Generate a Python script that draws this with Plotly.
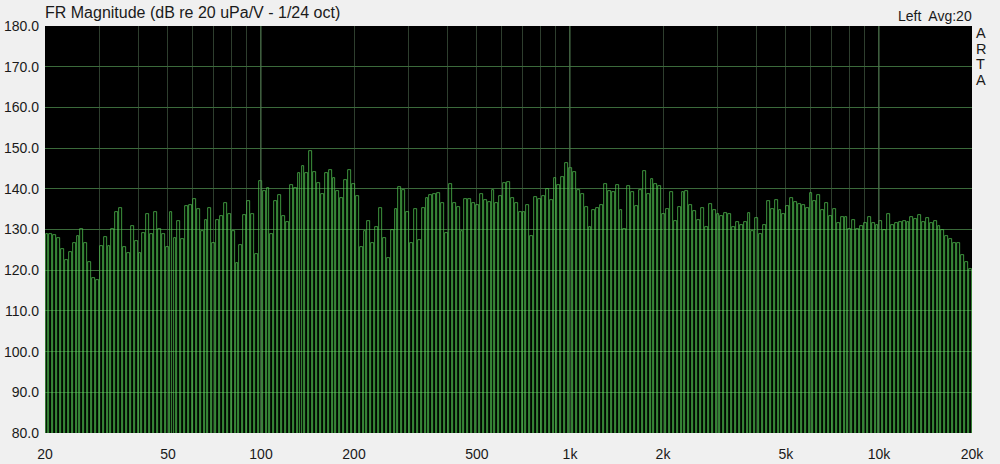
import numpy as np
import plotly.graph_objects as go

# ---- data ----
f_start = 20.0
f_stop = 20000.0
spl_db = [
    # 20 Hz .. ~200 Hz
    128.9, 128.9, 128.7, 128.0, 125.1, 122.5, 124.4, 126.6, 128.4, 130.2,
    126.6, 122.0, 118.2, 117.6, 125.9, 128.2, 125.9, 130.2, 134.2, 135.4,
    125.6, 124.3, 130.8, 127.1, 124.3, 129.2, 133.8, 128.9, 134.2, 130.2,
    129.0, 125.8, 134.3, 127.8, 132.1, 127.7, 135.7, 136.0, 137.5, 135.1,
    129.7, 132.3, 135.4, 126.6, 132.4, 133.3, 136.5, 133.7, 129.7, 121.8,
    126.1, 133.6, 136.9, 133.9, 124.1, 141.8, 139.4, 140.2, 129.0, 137.0,
    138.4, 133.3, 131.8, 140.9, 140.2, 143.9, 145.5, 144.0, 149.4, 144.1,
    141.4, 138.8, 143.9, 144.7, 142.6, 139.4, 137.8, 142.2, 144.5, 141.3,
    # ~200 Hz .. ~2 kHz
    138.2, 125.6, 129.7, 132.1, 126.7, 130.7, 135.4, 128.0, 123.1, 130.0,
    135.1, 140.4, 139.6, 134.3, 126.6, 135.0, 127.4, 135.4, 137.8, 138.5,
    138.7, 139.0, 136.4, 129.2, 141.1, 136.5, 135.6, 129.7, 137.4, 137.4,
    136.5, 135.9, 138.7, 137.2, 136.8, 139.6, 136.5, 138.2, 141.5, 141.7,
    137.8, 136.5, 134.3, 134.3, 136.0, 128.4, 138.0, 137.4, 138.2, 139.9,
    137.2, 142.7, 140.9, 142.8, 146.4, 145.2, 144.1, 139.8, 138.8, 135.6,
    130.5, 134.7, 135.4, 135.9, 141.1, 139.5, 139.2, 140.9, 134.7, 130.2,
    140.7, 139.1, 135.8, 139.6, 144.4, 138.8, 142.5, 141.1, 140.6, 133.9,
    # ~2 kHz .. 20 kHz
    135.1, 139.2, 132.1, 135.6, 139.1, 139.4, 136.0, 134.5, 132.3, 135.3,
    130.7, 136.2, 134.7, 133.9, 133.3, 134.1, 133.8, 130.7, 131.9, 131.1,
    131.8, 134.1, 129.7, 132.8, 129.0, 131.2, 137.0, 135.1, 137.3, 134.7,
    133.7, 135.8, 137.8, 136.8, 136.2, 135.9, 135.3, 139.0, 137.0, 138.4,
    134.7, 136.4, 133.3, 135.1, 131.5, 133.1, 133.1, 130.1, 132.4, 130.2,
    130.8, 131.5, 133.1, 131.5, 131.1, 132.0, 130.0, 133.7, 131.1, 131.6,
    131.9, 132.1, 131.8, 133.1, 132.7, 133.5, 131.9, 132.9, 131.5, 132.0,
    130.9, 129.8, 128.4, 127.6, 126.6, 126.6, 123.7, 122.1, 120.2,
]
tick_freqs = [20, 50, 100, 200, 500, 1000, 2000, 5000, 10000, 20000]
tick_labels = ["20", "50", "100", "200", "500", "1k", "2k", "5k", "10k", "20k"]
grid_freqs = [m * d for d in (10, 100, 1000, 10000) for m in range(1, 10)
              if 20 <= m * d <= 20000] + [20000]
decade_freqs = [100, 1000, 10000]
y_ticks = list(range(80, 181, 10))

# ---- geometry on log-frequency axis ----
n = len(spl_db)
lf0, lf1 = np.log10(f_start), np.log10(f_stop)
edges = np.linspace(lf0, lf1, n + 1)
centers = 0.5 * (edges[:-1] + edges[1:])
step = edges[1] - edges[0]

fig = go.Figure()
fig.add_trace(go.Bar(
    x=centers, y=spl_db, width=step * 0.74,
    marker=dict(color="rgba(0,30,0,0.25)",
                line=dict(color="#58d058", width=0.7)),
    hoverinfo="x+y",
))

for f in decade_freqs:
    fig.add_shape(type="line", xref="x", yref="paper",
                  x0=np.log10(f), x1=np.log10(f), y0=0, y1=1,
                  line=dict(color="#4f7a4f", width=1), layer="above")

font = "Liberation Sans, Arial, sans-serif"
fig.update_layout(
    width=1000, height=464,
    margin=dict(l=45, r=28, t=26, b=31, autoexpand=False),
    paper_bgcolor="#f0f0f0", plot_bgcolor="#000000",
    bargap=0, showlegend=False,
    font=dict(family=font, size=14, color="#1a1a1a"),
    xaxis=dict(
        range=[lf0, lf1], tickvals=np.log10(tick_freqs), ticktext=tick_labels,
        showgrid=False, zeroline=False, ticks="", showline=False,
        automargin=False, ticklabelstandoff=11,
        tickfont=dict(size=14, color="#1a1a1a"),
        minor=dict(tickvals=np.log10(grid_freqs).tolist(), showgrid=True,
                   gridcolor="#2e3e2e", gridwidth=1, ticks=""),
    ),
    yaxis=dict(
        range=[80, 180], tickvals=y_ticks, tickformat=".1f",
        showgrid=True, gridcolor="#3b6a3b", gridwidth=1,
        zeroline=False, ticks="", showline=False, automargin=False,
        ticklabelstandoff=5,
        tickfont=dict(size=14, color="#1a1a1a"),
    ),
    annotations=[
        dict(text="FR Magnitude (dB re 20 uPa/V - 1/24 oct)", xref="paper", yref="paper",
             x=0.0, y=1, xanchor="left", yanchor="bottom", yshift=3, xshift=-2,
             showarrow=False, font=dict(size=16, color="#1a1a1a")),
        dict(text="Left  Avg:20", xref="paper", yref="paper",
             x=1, y=1, xanchor="right", yanchor="bottom", yshift=0, xshift=2,
             showarrow=False, font=dict(size=14, color="#1a1a1a")),
    ] + [
        dict(text=ch, xref="paper", yref="paper", x=1, y=1, xanchor="left",
             yanchor="top", xshift=2, yshift=3 - 15.5 * i, showarrow=False,
             font=dict(size=14.5, color="#1a1a1a"))
        for i, ch in enumerate("ARTA")
    ],
)

fig.write_html("out.html", config={"displayModeBar": False},
               post_script="document.body.style.margin='0';")
